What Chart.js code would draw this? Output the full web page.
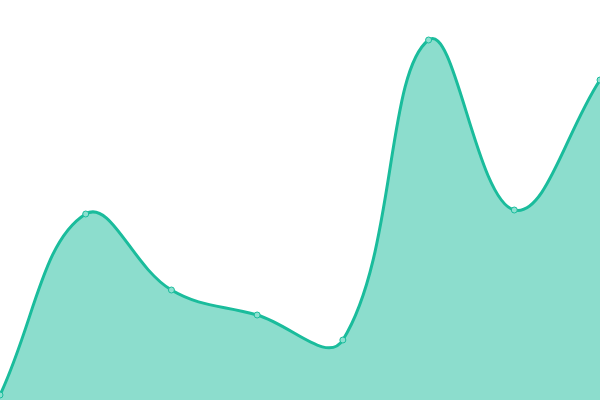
<!DOCTYPE html>
<html>
<head>
<meta charset="utf-8">
<script src="https://cdn.jsdelivr.net/npm/chart.js@4"></script>
<style>
  html, body { margin: 0; padding: 0; background: #fff; }
  #wrap { width: 600px; height: 400px; }
</style>
</head>
<body>
<div id="wrap"><canvas id="areaChart"></canvas></div>
<script>
// chart data
const labels = ['1', '2', '3', '4', '5', '6', '7', '8'];
const values = [5, 186, 110, 85, 60, 360, 190, 320];
const yMin = 0;
const yMax = 400;

const ctx = document.getElementById('areaChart').getContext('2d');
new Chart(ctx, {
  type: 'line',
  data: {
    labels: labels,
    datasets: [{
      data: values,
      borderColor: '#1abc9c',
      backgroundColor: 'rgba(26, 188, 156, 0.5)',
      pointBackgroundColor: '#8de0d0',
      pointBorderColor: '#1abc9c',
      pointRadius: 3,
      pointBorderWidth: 1,
      borderWidth: 3,
      tension: 0.4,
      fill: 'start'
    }]
  },
  options: {
    responsive: true,
    maintainAspectRatio: false,
    animation: false,
    layout: { padding: 0, autoPadding: false },
    plugins: {
      legend: { display: false },
      tooltip: { enabled: false }
    },
    scales: {
      x: { display: false, offset: false },
      y: { display: false, min: yMin, max: yMax }
    }
  }
});
</script>
</body>
</html>
